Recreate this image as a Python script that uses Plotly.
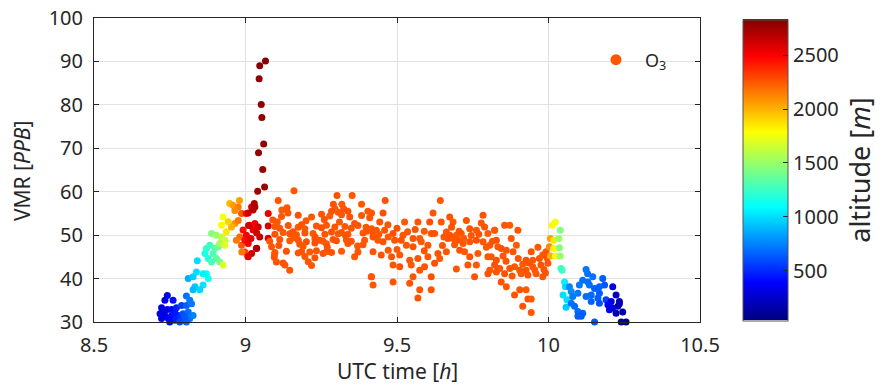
import plotly.graph_objects as go

# ---------------- data ----------------
# ascent (climb from ground to ~2600 m)
ascent_t = [8.742, 8.734, 8.761, 8.805, 8.723, 8.742, 8.756, 8.772, 8.789, 8.805,
            8.822, 8.718, 8.734, 8.756, 8.778, 8.794, 8.811, 8.723, 8.745, 8.767,
            8.789, 8.816, 8.750, 8.783, 8.805, 8.729, 8.767, 8.800, 8.827, 8.816,
            8.811, 8.827, 8.838, 8.833, 8.827, 8.860, 8.849, 8.877, 8.871, 8.841, 8.860,
            8.866, 8.871, 8.882, 8.877, 8.893, 8.899, 8.910, 8.904, 8.915, 8.926, 8.888,
            8.888, 8.904, 8.921, 8.932, 8.915, 8.932,
            8.926, 8.921, 8.937, 8.943,
            8.948, 8.959, 8.976, 8.965, 8.965, 8.954, 8.976, 8.981, 8.970, 8.987, 8.998, 8.987, 8.980, 8.988,
            9.003, 9.020, 9.031, 9.014, 9.025, 9.042, 8.992, 9.003, 8.998, 9.009, 9.018,
            9.009, 9.020, 9.036, 9.047, 9.009, 9.010, 9.075, 9.075, 9.075, 9.037, 9.008]
ascent_vmr = [36.1, 35.0, 35.0, 36.0, 33.3, 32.9, 32.9, 33.3, 33.8, 33.8,
              34.2, 31.9, 31.5, 31.5, 31.5, 31.9, 32.3, 30.8, 30.8, 30.4,
              30.4, 30.8, 30.0, 30.0, 30.0, 32.3, 32.1, 31.2, 31.5, 35.0,
              40.0, 40.4, 41.5, 38.1, 37.4, 38.5, 37.4, 40.0, 41.1, 44.1, 41.1,
              45.8, 46.9, 47.7, 44.6, 45.8, 46.9, 47.3, 44.6, 43.8, 43.1, 43.8,
              50.4, 50.0, 49.6, 48.8, 48.1, 47.7,
              54.2, 52.3, 50.8, 53.1,
              57.3, 56.9, 56.5, 55.7, 52.7, 51.9, 53.4, 49.6, 48.8, 47.7, 46.1, 55.0, 58.0, 46.1,
              55.0, 56.5, 52.7, 52.3, 51.2, 51.9, 51.2, 50.0, 48.8, 48.1, 49.2,
              45.0, 45.8, 46.9, 49.6, 55.1, 52.2, 55.0, 52.1, 49.3, 50.5, 45.1]
ascent_alt = [350, 330, 420, 700, 300, 340, 400, 480, 560, 650,
              720, 290, 330, 420, 520, 600, 680, 310, 380, 470,
              560, 700, 400, 580, 660, 310, 450, 620, 740, 720,
              860, 950, 1000, 930, 900, 1020, 980, 1130, 1100, 1000, 1050,
              1150, 1200, 1250, 1180, 1300, 1320, 1380, 1340, 1400, 1700, 1280,
              1450, 1500, 1600, 1650, 1550, 1700,
              1780, 1800, 1850, 1900,
              1980, 2050, 2150, 2100, 2080, 2000, 2150, 2200, 2150, 2250, 2300, 2250, 2050, 2150,
              2450, 2550, 2500, 2500, 2550, 2600, 2450, 2500, 2450, 2500, 2550,
              2550, 2600, 2600, 2650, 2600, 2600, 2550, 2600, 2600, 2600, 2550]

# spike at top of climb
spike_t = [9.066, 9.047, 9.045, 9.052, 9.054, 9.060, 9.043, 9.057, 9.063, 9.040, 9.029, 9.031, 9.037, 9.025]
spike_vmr = [90.1, 89.0, 86.0, 80.1, 77.1, 71.0, 69.0, 65.1, 61.1, 60.1, 57.3, 56.5, 47.0, 55.8]
spike_alt = [2820, 2810, 2800, 2790, 2780, 2770, 2760, 2760, 2750, 2740, 2700, 2700, 2700, 2680]

# level flight
cruise_t = [9.160, 9.108, 9.302, 9.352, 9.137, 9.120, 9.140, 9.290, 9.318, 9.324, 9.383, 9.295, 9.284, 9.306, 9.338, 9.404,
            9.119, 9.174, 9.218, 9.251, 9.278, 9.317, 9.344, 9.383, 9.410,
            9.097, 9.113, 9.141, 9.174, 9.185, 9.196, 9.234, 9.251, 9.267, 9.295, 9.328, 9.349, 9.371, 9.398,
            9.097, 9.124, 9.146, 9.157, 9.168, 9.196, 9.223, 9.262, 9.284, 9.306, 9.317, 9.338, 9.388, 9.421,
            9.080, 9.113, 9.146, 9.174, 9.201, 9.229, 9.245, 9.256, 9.289, 9.300, 9.333, 9.349, 9.393,
            9.179, 9.229, 9.267, 9.338, 9.388,
            9.097, 9.135, 9.174, 9.185, 9.212, 9.234, 9.256, 9.267, 9.284, 9.317, 9.371,
            9.095, 9.196, 9.229, 9.360,
            9.102, 9.124, 9.207, 9.130, 9.218, 9.146, 9.415,
            9.200, 9.260, 9.310, 9.360, 9.230, 9.160, 9.330, 9.370, 9.400, 9.270, 9.190, 9.110,
            9.086, 9.096, 9.090, 9.105,
            9.461, 9.643, 9.416, 9.454, 9.619, 9.443, 9.525, 9.569, 9.608, 9.646, 9.674, 9.685, 9.729, 9.784, 9.778,
            9.416, 9.432, 9.459, 9.487, 9.520, 9.553, 9.575, 9.613, 9.624, 9.663, 9.674, 9.696, 9.712, 9.740, 9.762, 9.789, 9.800, 9.822,
            9.421, 9.437, 9.454, 9.471, 9.492, 9.514, 9.531, 9.553, 9.580, 9.602, 9.668, 9.685, 9.701, 9.718, 9.740, 9.762, 9.784, 9.806, 9.833,
            9.421, 9.448, 9.471, 9.482, 9.509, 9.542, 9.569, 9.602, 9.635, 9.641, 9.663, 9.707, 9.723, 9.740, 9.767, 9.800, 9.828,
            9.487, 9.509, 9.547, 9.591, 9.624, 9.696, 9.734, 9.762, 9.806, 9.833,
            9.416, 9.487, 9.553, 9.575, 9.613, 9.756, 9.800,
            9.421, 9.542, 9.613, 9.575, 9.569,
            9.440, 9.470, 9.500, 9.535, 9.560, 9.590, 9.655, 9.680, 9.690, 9.705, 9.720, 9.745, 9.770, 9.795, 9.815, 9.500, 9.590, 9.650,
            9.822, 9.855, 9.872, 9.899, 9.828, 9.877, 9.844, 9.894, 9.861, 9.883, 9.965, 9.943,
            9.811, 9.850, 9.926, 9.948, 9.970, 9.981, 9.992,
            9.822, 9.839, 9.872, 9.888, 9.905, 9.926, 9.948, 9.975, 9.998,
            9.828, 9.855, 9.910, 9.932, 9.959, 9.981,
            9.844, 9.861, 9.905, 9.926, 9.888, 9.932, 9.943, 9.915, 9.943,
            9.860, 9.900, 9.915, 9.935, 9.955, 9.985, 9.995, 9.880, 9.990]
cruise_vmr = [60.2, 58.0, 59.1, 59.1, 56.3, 55.8, 55.1, 57.1, 57.1, 56.1, 57.1, 56.1, 55.5, 55.3, 55.5, 55.5,
              54.3, 54.6, 54.2, 54.8, 54.4, 54.7, 54.2, 54.5, 54.0,
              52.0, 51.6, 52.2, 51.8, 52.4, 51.5, 52.1, 51.7, 52.3, 51.9, 52.0, 51.6, 52.2, 51.8,
              50.2, 50.6, 50.3, 50.8, 50.1, 50.5, 50.4, 50.2, 50.7, 50.3, 50.6, 50.2, 50.5, 50.4,
              48.6, 49.0, 48.7, 48.9, 48.5, 49.1, 48.8, 48.6, 49.0, 48.7, 48.9, 48.6, 48.8,
              47.9, 48.2, 48.0, 48.1, 47.8,
              46.0, 46.3, 45.9, 46.2, 46.1, 46.4, 45.8, 46.2, 46.0, 46.3, 46.1,
              44.9, 45.1, 44.8, 45.0,
              43.8, 43.6, 43.9, 43.1, 43.0, 41.9, 40.4,
              53.3, 53.6, 53.0, 52.7, 49.6, 49.4, 49.9, 47.5, 50.9, 47.2, 47.4, 47.6,
              47.3, 45.6, 53.5, 53.0,
              58.0, 58.0, 55.1, 55.1, 55.1, 53.0, 53.0, 53.0, 53.0, 53.0, 54.2, 53.0, 53.4, 54.6, 52.8,
              51.5, 51.1, 51.1, 50.4, 50.0, 49.2, 49.2, 50.4, 50.4, 50.7, 50.0, 50.0, 50.4, 51.5, 51.1, 51.9, 50.4, 51.1,
              49.6, 48.8, 48.5, 49.6, 48.8, 48.8, 47.7, 47.3, 48.5, 47.7, 49.2, 49.2, 48.8, 48.1, 48.5, 48.8, 48.5, 47.7, 47.3,
              46.2, 45.4, 46.5, 45.0, 45.4, 44.2, 44.6, 45.0, 45.8, 44.6, 46.2, 46.5, 46.2, 45.0, 45.8, 45.0, 44.2,
              43.1, 42.7, 43.1, 42.7, 43.5, 42.2, 43.1, 43.1, 41.9, 42.3,
              40.4, 39.2, 40.4, 41.9, 40.4, 40.4, 41.1,
              38.5, 38.9, 37.4, 37.4, 35.5,
              50.2, 52.4, 51.6, 50.8, 51.3, 50.9, 49.6, 51.8, 47.8, 50.9, 49.3, 49.9, 50.2, 47.2, 48.6, 46.7, 46.4, 47.6,
              51.1, 52.3, 52.3, 51.1, 48.8, 49.2, 46.9, 47.7, 46.5, 46.2, 47.2, 46.2,
              45.0, 45.2, 44.2, 44.2, 44.6, 45.4, 46.2,
              43.1, 42.3, 42.3, 42.7, 41.9, 41.9, 42.7, 43.1, 43.5,
              41.5, 41.1, 41.1, 40.8, 41.1, 40.4,
              39.2, 38.1, 37.4, 37.4, 36.2, 35.3, 35.3, 33.6, 32.2,
              44.0, 44.6, 43.3, 43.6, 42.0, 42.1, 44.8, 40.6, 41.3]
cruise_alt_levels = [2240, 2250, 2260, 2245, 2255]

# descent back to ground
descent_t = [10.023, 10.012, 10.039, 10.006, 10.017, 10.034, 10.003, 10.017, 10.036, 10.006,
             10.023, 10.039, 10.041, 10.045, 10.053, 10.056, 10.048, 10.061, 10.058,
             10.069, 10.075, 10.080, 10.075, 10.086, 10.097, 10.113, 10.108, 10.097, 10.152,
             10.124, 10.129, 10.146, 10.179, 10.185, 10.152, 10.168, 10.141, 10.163, 10.190,
             10.102, 10.097, 10.124, 10.141, 10.168, 10.135, 10.113, 10.130, 10.168,
             10.212, 10.223, 10.207, 10.196, 10.229, 10.223, 10.234, 10.201, 10.212,
             10.256, 10.240, 10.245, 10.234]
descent_vmr = [53.0, 52.3, 51.1, 49.2, 48.8, 49.2, 47.3, 46.9, 47.1, 45.2,
               45.2, 45.2, 42.3, 41.9, 39.2, 38.1, 36.2, 35.1, 33.4,
               38.1, 37.0, 35.9, 34.3, 33.6, 32.4, 32.0, 31.3, 31.3, 30.0,
               42.1, 41.1, 40.4, 40.0, 38.5, 37.7, 36.6, 36.2, 35.5, 35.1,
               38.5, 36.6, 35.9, 34.7, 34.3, 38.5, 39.6, 39.2, 38.1,
               38.1, 36.2, 34.7, 34.0, 33.6, 32.0, 34.7, 32.8, 33.2,
               30.0, 30.0, 32.3, 34.2]
descent_alt = [1750, 1800, 1450, 2050, 1850, 1500, 2100, 1800, 1450, 2000,
               1750, 1500, 1250, 1250, 1050, 1000, 1000, 1000, 950,
               750, 780, 720, 700, 680, 680, 660, 650, 650, 620,
               720, 700, 700, 640, 620, 650, 640, 680, 650, 560,
               720, 720, 690, 660, 620, 700, 700, 700, 650,
               350, 250, 300, 350, 200, 200, 180, 320, 280,
               60, 100, 150, 170]

colorbar_ticks = [500, 1000, 1500, 2000, 2500]
x_ticks = [8.5, 9, 9.5, 10, 10.5]
x_ticktext = ["8.5", "9", "9.5", "10", "10.5"]
y_ticks = [30, 40, 50, 60, 70, 80, 90, 100]

# ---------------- build ----------------
cruise_alt = [cruise_alt_levels[i % len(cruise_alt_levels)] for i in range(len(cruise_t))]
assert len(ascent_t) == len(ascent_vmr) == len(ascent_alt)
assert len(spike_t) == len(spike_vmr) == len(spike_alt)
assert len(cruise_t) == len(cruise_vmr)
assert len(descent_t) == len(descent_vmr) == len(descent_alt)

t_all = ascent_t + spike_t + cruise_t + descent_t
v_all = ascent_vmr + spike_vmr + cruise_vmr + descent_vmr
a_all = ascent_alt + spike_alt + cruise_alt + descent_alt

jet = [[0.0, "rgb(0,0,128)"], [0.125, "rgb(0,0,255)"], [0.375, "rgb(0,255,255)"],
       [0.625, "rgb(255,255,0)"], [0.875, "rgb(255,0,0)"], [1.0, "rgb(128,0,0)"]]

FONT = "Noto Sans"
TXT = "#262626"

fig = go.Figure()
fig.add_trace(go.Scatter(
    x=t_all, y=v_all, mode="markers", showlegend=False, cliponaxis=False,
    marker=dict(size=7, color=a_all, colorscale=jet, cmin=40, cmax=2830,
                line=dict(width=0),
                colorbar=dict(x=1.071, xanchor="left", xpad=0, y=0.5, yanchor="middle", ypad=0,
                              thickness=45, len=301, lenmode="pixels",
                              outlinecolor="#555555", outlinewidth=1,
                              tickvals=colorbar_ticks, ticks="inside", ticklen=5,
                              tickcolor=TXT, tickfont=dict(family=FONT, size=20, color=TXT),
                              title=dict(text="altitude [<i>m</i>]", side="right",
                                         font=dict(family=FONT, size=27, color=TXT))))))
fig.add_trace(go.Scatter(x=[None], y=[None], mode="markers", name="O<sub>3</sub>",
                         marker=dict(size=11, color="#ff5500", line=dict(width=0))))

axis_common = dict(showline=True, linecolor=TXT, linewidth=1, mirror="ticks",
                   ticks="inside", ticklen=5, tickcolor=TXT, automargin=False,
                   ticklabeloverflow="allow",
                   showgrid=True, gridcolor="#e2e2e2", gridwidth=1, zeroline=False,
                   tickfont=dict(family=FONT, size=20, color=TXT))

fig.update_xaxes(range=[8.5, 10.5], tickvals=x_ticks, ticktext=x_ticktext,
                 ticklabelstandoff=5, **axis_common)
fig.update_yaxes(range=[30, 100], tickvals=y_ticks, ticklabelstandoff=6, **axis_common)

# the page body adds an 8 px offset, so the figure is 8 px smaller and margins are shifted
fig.update_layout(
    width=879, height=376,
    margin=dict(l=86, r=187, t=10, b=62, autoexpand=False),
    paper_bgcolor="white", plot_bgcolor="white",
    legend=dict(x=0.8135, y=0.862, xanchor="left", yanchor="middle", bgcolor="rgba(0,0,0,0)",
                borderwidth=0, itemwidth=48, font=dict(family=FONT, size=18, color=TXT)),
    annotations=[
        dict(text="UTC time [<i>h</i>]", xref="paper", yref="paper", x=0.5, y=-0.16,
             xanchor="center", yanchor="middle", showarrow=False,
             font=dict(family=FONT, size=21, color=TXT)),
        dict(text="VMR [<i>PPB</i>]", xref="paper", yref="paper", x=-0.119, y=0.496,
             xanchor="center", yanchor="middle", showarrow=False, textangle=-90,
             font=dict(family=FONT, size=21, color=TXT)),
    ],
)

fig.write_html("out.html")
